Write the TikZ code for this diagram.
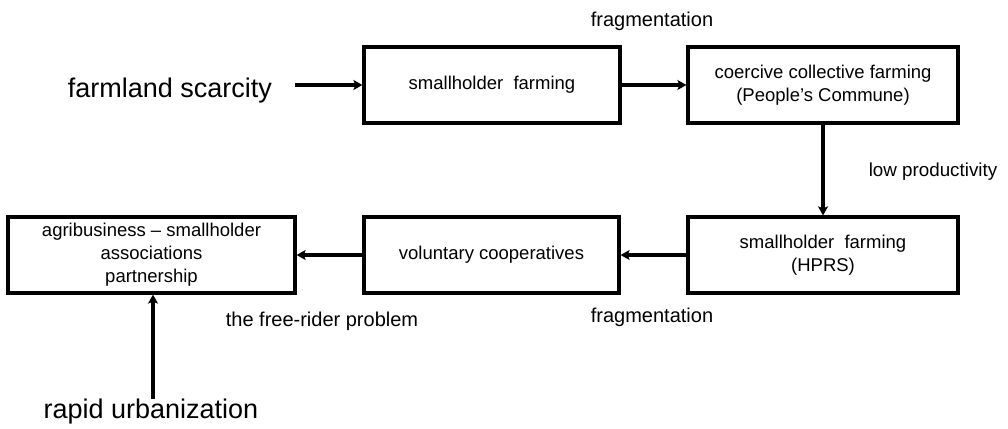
\documentclass[tikz,border=0pt]{standalone}
\usepackage{fontspec}
\setmainfont{Liberation Sans}
\usetikzlibrary{arrows.meta}
\tikzset{
  stagebox/.style={draw=black, line width=3.2pt, align=center, inner sep=0pt,
    font=\fontsize{18.5}{23}\selectfont},
  flow/.style={line width=3.1pt, -{Stealth[length=9pt,width=10pt,inset=2pt]}},
  driver/.style={font=\fontsize{27}{30}\selectfont, anchor=base, inner sep=0pt},
  cause/.style={font=\fontsize{20}{24}\selectfont, anchor=base, inner sep=0pt}
}
\begin{document}
\begin{tikzpicture}[x=1pt, y=-1pt]
\useasboundingbox (0,0) rectangle (1008,428);

% stages of farm organisation
\node[stagebox, minimum width=256pt, minimum height=76pt] (sh1) at (492,85) {smallholder\ \ farming};
\node[stagebox, minimum width=270pt, minimum height=76pt] (pc) at (823,85) {coercive collective farming\\(People’s Commune)};
\node[stagebox, minimum width=270pt, minimum height=76pt] (hprs) at (823,255) {smallholder\ \ farming\\(HPRS)};
\node[stagebox, minimum width=255pt, minimum height=76pt] (coop) at (491.5,255) {voluntary cooperatives};
\node[stagebox, minimum width=287pt, minimum height=76pt] (agri) at (151.5,255) {agribusiness -- smallholder\\associations\\partnership};

% external drivers
\node[driver] (scarce) at (170,97) {farmland scarcity};
\node[driver] (urban) at (151,418) {rapid urbanization};
\coordinate (scarce-end) at (295,85);
\coordinate (urban-end) at (153,399);

% problems that trigger each transition
\node[cause] (frag1) at (652,27) {fragmentation};
\node[cause, font=\fontsize{18.8}{22}\selectfont] (lowprod) at (933,176) {low productivity};
\node[cause] (frag2) at (652,322) {fragmentation};
\node[cause] (freerider) at (322,326) {the free-rider problem};

% transitions
\draw[flow] (scarce-end) -- (sh1.west);
\draw[flow] (sh1.east) -- (pc.west);
\draw[flow] (pc.south) -- (hprs.north);
\draw[flow] (hprs.west) -- (coop.east);
\draw[flow] (coop.west) -- (agri.east);
\draw[flow] (urban-end) -- (urban-end |- agri.south);
\end{tikzpicture}
\end{document}
